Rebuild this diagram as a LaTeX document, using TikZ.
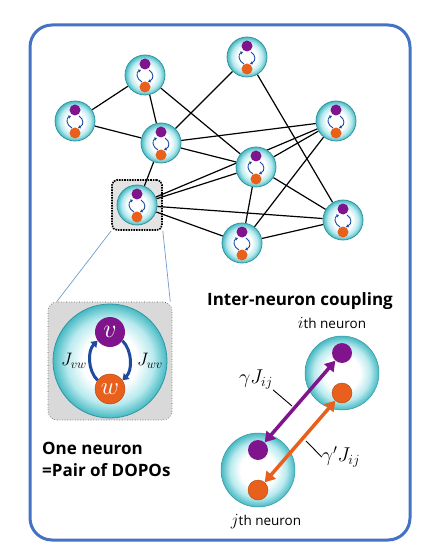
\RequirePackage{fix-cm}
\documentclass[tikz,border=0pt]{standalone}
\usepackage{fontspec}
\setsansfont{Open Sans}
\usetikzlibrary{arrows.meta,backgrounds}

\definecolor{framebl}{RGB}{68,114,196}
\definecolor{dopov}{RGB}{128,20,140}
\definecolor{dopow}{RGB}{232,96,28}
\definecolor{loopbl}{RGB}{30,75,160}
\definecolor{tealring}{RGB}{70,185,195}
\definecolor{tealedge}{RGB}{50,150,160}
\definecolor{cyanlite}{RGB}{185,234,238}
\definecolor{zoombl}{RGB}{110,155,205}
\definecolor{boxgray}{RGB}{228,228,228}

\pgfdeclareradialshading{neuronglow}{\pgfpoint{0bp}{0bp}}{%
  color(0bp)=(white); color(12bp)=(white); color(19bp)=(cyanlite);
  color(25bp)=(tealring); color(50bp)=(tealring)}

\tikzset{
  neuron/.style={circle, inner sep=0pt, minimum size=40pt, shade, shading=neuronglow,
    draw=tealedge, line width=0.8pt},
  bigneuron/.style={neuron, minimum size=114pt},
  cplneuron/.style={neuron, minimum size=74pt, line width=0.5pt},
  vdot/.style={circle, inner sep=0pt, fill=dopov, text=white},
  wdot/.style={circle, inner sep=0pt, fill=dopow, draw=dopow!75!black, line width=0.4pt, text=white},
  link/.style={line width=1.2pt, black},
  smallloop/.style={loopbl, line width=0.9pt, -{Triangle[length=2.5pt,width=3pt]}},
  bigloop/.style={loopbl, line width=3pt, -{Triangle[length=6pt,width=8pt]}},
  cplarrow/.style={line width=3.5pt, {Triangle[length=10pt,width=12pt]}-{Triangle[length=10pt,width=12pt]}},
  selbox/.style={draw=black, densely dotted, line width=1.6pt, fill=boxgray,
    rounded corners=5pt, minimum size=50pt},
  cellbox/.style={draw=black!70, dotted, line width=0.6pt, fill=boxgray!95!black,
    rounded corners=9pt, minimum width=124pt, minimum height=118pt},
  zoomline/.style={zoombl, line width=0.7pt},
  headtext/.style={font=\sffamily\bfseries\fontsize{17}{22}\selectfont, inner sep=0pt},
  neurontext/.style={font=\sffamily\fontsize{13.5}{16}\selectfont, inner sep=0pt},
  jlab/.style={font=\fontsize{18}{20}\selectfont, inner sep=0pt},
  glab/.style={font=\fontsize{20}{24}\selectfont, inner sep=0pt},
  leader/.style={black, line width=0.9pt}
}

\begin{document}
\begin{tikzpicture}[x=1pt,y=-1pt]
  \useasboundingbox (0,0) rectangle (435,545);
  % frame
  \draw[framebl, line width=3pt, rounded corners=22pt] (30,25) rectangle (410,540);

  % network of neurons
  \foreach \nm/\px/\py in {n1/247/57, n2/145/75, n3/75/121, n4/161/143, n5/336/121,
      n6/256/167, n7/137/205, n8/343/220, n9/242/243}{
    \node[neuron] (\nm) at (\px,\py) {};
    \fill[dopov] (\px,\py-11) circle (5.5);
    \fill[dopow] (\px,\py+12) circle (5.5);
    \draw[smallloop] (\px-3,\py+7) .. controls (\px-9,\py+4) and (\px-9,\py-3) .. (\px-4,\py-5);
    \draw[smallloop] (\px+4,\py-5) .. controls (\px+9,\py-2) and (\px+9,\py+4) .. (\px+3,\py+7);
  }
  \begin{scope}[on background layer]
    \node[selbox] (sel) at (n7) {};
    \foreach \a/\b in {n3/n2, n3/n4, n2/n4, n2/n6, n1/n4, n1/n8, n4/n5, n4/n6, n4/n7,
        n5/n6, n5/n7, n5/n9, n6/n7, n6/n8, n6/n9, n7/n8, n7/n9, n9/n8}
      \draw[link] (\a) -- (\b);
  \end{scope}

  % one neuron, enlarged
  \node[cellbox] (cell) at (110,361) {};
  \draw[zoomline] (sel.south west) -- ([xshift=9pt]cell.north west);
  \draw[zoomline] (sel.south east) -- ([xshift=-2pt]cell.north east);
  \node[bigneuron] (bign) at (110,361) {};
  \node[vdot, minimum size=30pt, font=\fontsize{26}{26}\selectfont] (v) at (110,332) {$v$};
  \node[wdot, minimum size=30pt, font=\fontsize{25}{25}\selectfont] (w) at (110,389) {$w$};
  \draw[bigloop] (w.145) .. controls +(-10,-10) and +(-10,10) .. (v.215);
  \draw[bigloop] (v.325) .. controls +(10,10) and +(10,-10) .. (w.35);
  \node[jlab] (jvw) at (74,361) {$J_{vw}$};
  \node[jlab] (jwv) at (150,361) {$J_{wv}$};
  \node[headtext, align=left, anchor=north west] (onelbl) at (42,442) {One neuron\\=Pair of DOPOs};

  % inter-neuron coupling
  \node[headtext] (cpllbl) at (300,301) {Inter-neuron coupling};
  \node[cplneuron] (ni) at (342,373) {};
  \node[cplneuron] (nj) at (258,470) {};
  \node[neurontext] (ilbl) at (332,323) {{\fontsize{17}{17}\selectfont$i$}th neuron};
  \node[neurontext] (jlbl) at (266,522) {{\fontsize{17}{17}\selectfont$j$}th neuron};
  \node[vdot, minimum size=20pt] (vi) at (342,353) {};
  \node[wdot, minimum size=20pt] (wi) at (342,393) {};
  \node[vdot, minimum size=20pt] (vj) at (258,450) {};
  \node[wdot, minimum size=20pt] (wj) at (258,490) {};
  \draw[cplarrow, dopov] (vi) -- (vj);
  \draw[cplarrow, dopow] (wi) -- (wj);
  \node[glab] (gij) at (256,380) {$\gamma J_{ij}$};
  \coordinate (gfoot) at (292,406);
  \draw[leader] (gij.south east) -- (gfoot);
  \node[glab] (gpij) at (341,457) {$\gamma' J_{ij}$};
  \coordinate (gpfoot) at (306,441);
  \draw[leader] (gpfoot) -- (gpij.west);
\end{tikzpicture}
\end{document}
